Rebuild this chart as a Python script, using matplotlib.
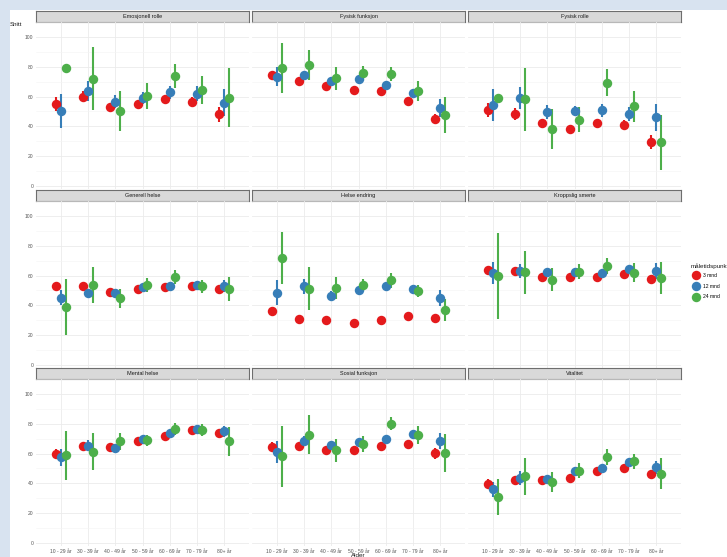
import matplotlib
matplotlib.use("Agg")
import matplotlib.pyplot as plt
import numpy as np

plt.rcParams['font.family'] = ['Liberation Sans', 'DejaVu Sans']

# data
alder = ["10 - 29 år", "30 - 39 år", "40 - 49 år", "50 - 59 år", "60 - 69 år", "70 - 79 år", "80+ år"]
tidspunkt = ["3 mnd", "12 mnd", "24 mnd"]
farger = ["#E41A1C", "#377EB8", "#4DAF4A"]
paneler = ["Emosjonell rolle", "Fysisk funksjon", "Fysisk rolle",
           "Generell helse", "Helse endring", "Kroppslig smerte",
           "Mental helse", "Sosial funksjon", "Vitalitet"]

emo_snitt = [[55, 60, 53, 55, 58.6, 56.6, 48],
             [50.3, 63.7, 56.6, 59.3, 62.8, 62, 56],
             [79, 72, 50.3, 60.4, 73.6, 64.4, 59.3]]
emo_feil = [[5, 3.5, 3, 2, 2, 3, 5],
            [11.5, 7, 4.5, 4, 4.3, 5.3, 9],
            [0, 21, 13.7, 9, 7.9, 9.2, 19.8]]

ffunk_snitt = [[74.4, 70.2, 66.9, 64.4, 63.5, 56.8, 45.2],
               [73.3, 74.2, 70.4, 71.8, 67.6, 62.4, 52.6],
               [79, 81, 72.2, 75.6, 75.3, 63.7, 47.5]]
ffunk_feil = [[2, 2, 2, 1.5, 2, 2, 3.2],
              [6.5, 3, 3, 2, 2, 3, 6],
              [16.7, 10.2, 7.7, 5, 4.8, 6.5, 12.2]]

frolle_snitt = [[51, 48.4, 42.1, 38.3, 42.5, 41, 29.4],
                [54.2, 58.9, 49.5, 50.2, 50.8, 48.4, 46.1],
                [59.3, 58.2, 38.3, 44.6, 69.3, 53.5, 29.2]]
frolle_feil = [[4.5, 3.8, 3, 2, 2.5, 3, 4.8],
               [10.8, 7.2, 4.8, 3.5, 4.2, 4.9, 8.9],
               [0, 21.2, 13.3, 8.5, 9, 10.4, 18.3]]

ghelse_snitt = [[52.8, 52.8, 48.8, 51, 52.4, 52.8, 50.8],
                [45, 48, 48.4, 52.4, 53, 53.5, 53.3],
                [39, 53.7, 44.8, 53.7, 59, 52.8, 51]]
ghelse_feil = [[2, 1.5, 1.5, 1.5, 1.5, 1.5, 2],
               [5, 3, 2, 1.5, 2, 2, 4],
               [19, 12, 6.3, 4.5, 4.5, 4.5, 8.1]]

hendr_snitt = [[36.1, 31, 30.3, 27.9, 30.3, 33.2, 31.7],
               [48.4, 52.8, 46.6, 50.4, 52.8, 51, 44.8],
               [71.8, 51.3, 51.7, 53.7, 56.9, 49.7, 37]]
hendr_feil = [[1.5, 1.5, 1.5, 1.5, 1.5, 1.5, 1.5],
              [8.4, 5, 3.2, 2, 2, 2, 5.3],
              [17.3, 14.2, 7.5, 4.3, 5, 3.9, 7.2]]

smerte_snitt = [[64, 63, 59.3, 59.1, 59.1, 61.3, 57.5],
                [62, 63.3, 62.6, 62.2, 62, 64.7, 63.3],
                [59.7, 62.2, 57.3, 62.6, 66.4, 62, 58.4]]
smerte_feil = [[2.5, 2, 2, 1.5, 1.5, 2, 3],
               [7.4, 4.7, 2.5, 2, 2, 2, 5.3],
               [28.7, 14.5, 7.5, 5, 5.2, 6.2, 11]]

mental_snitt = [[60, 65.4, 64.5, 68.7, 71.6, 75.6, 73.8],
                [57.5, 65.4, 63.8, 69.8, 73.8, 76.5, 74.9],
                [58.7, 61.3, 68.2, 68.9, 76.5, 75.6, 68.2]]
mental_feil = [[3, 2, 1.5, 1.5, 1.5, 1.5, 2],
               [5.8, 3.6, 1.5, 2, 1.5, 1.5, 3.9],
               [16.7, 12.4, 5.8, 3.6, 3.9, 3.9, 9.7]]

sosial_snitt = [[64.5, 65.4, 62.7, 62.4, 65.4, 66.5, 60.2],
                [61.1, 68.7, 65.8, 68, 70, 73.4, 68.5],
                [58.2, 72.7, 62.2, 66.5, 80, 72.7, 60.5]]
sosial_feil = [[3, 2, 2, 1.5, 1.5, 2, 3.6],
               [7.2, 3, 2, 2, 2, 2, 5.6],
               [20.3, 13.3, 7.7, 5.3, 4.5, 6.1, 12.7]]

vital_snitt = [[39.9, 42.4, 42.2, 43.9, 48.4, 50.4, 46.4],
               [35.9, 43.7, 42.6, 48, 50, 54.2, 50.8],
               [30.8, 44.8, 40.8, 48.6, 57.8, 54.8, 46.4]]
vital_feil = [[3, 2, 2, 1.5, 1.5, 2, 2.5],
              [5, 4.5, 2, 2, 2, 2, 4.5],
              [11.8, 12.3, 6.7, 4.9, 5.4, 4.9, 10.4]]

alle_snitt = [emo_snitt, ffunk_snitt, frolle_snitt, ghelse_snitt, hendr_snitt,
              smerte_snitt, mental_snitt, sosial_snitt, vital_snitt]
alle_feil = [emo_feil, ffunk_feil, frolle_feil, ghelse_feil, hendr_feil,
             smerte_feil, mental_feil, sosial_feil, vital_feil]

W, H = 727, 557
fig = plt.figure(figsize=(W / 100, H / 100), dpi=100)
fig.patch.set_facecolor("#d8e3f0")

def px_axes(x0, y0, x1, y1, **kw):
    return fig.add_axes([x0 / W, 1 - y1 / H, (x1 - x0) / W, (y1 - y0) / H], **kw)

# white sheet
bg = px_axes(10, 10, W, H)
bg.set_facecolor("white")
bg.set_xticks([]); bg.set_yticks([])
for s in bg.spines.values():
    s.set_visible(False)

kol_x = [(36, 249), (252, 465), (468, 681)]
rad_y = [(11, 22, 189), (190, 201, 368), (368, 379, 546)]
x = np.arange(1, 8)
dodge = [-0.18, 0, 0.18]
msize = 6.8

for i, navn in enumerate(paneler):
    r, k = divmod(i, 3)
    x0, x1 = kol_x[k]
    st0, st1, p1 = rad_y[r]

    strip = px_axes(x0, st0, x1, st1)
    strip.set_facecolor("#d9d9d9")
    strip.set_xticks([]); strip.set_yticks([])
    for s in strip.spines.values():
        s.set_color("#6e6e6e")
        s.set_linewidth(0.8)
    strip.text(0.5, 0.5, navn, ha="center", va="center", fontsize=4, color="#1a1a1a",
               transform=strip.transAxes)

    ax = px_axes(x0, st1, x1, p1)
    ax.set_facecolor("none")
    for s in ax.spines.values():
        s.set_visible(False)
    ax.set_xlim(0.08, 7.92)
    ax.set_ylim(-2, 110)
    ax.set_yticks(np.arange(0, 101, 20))
    ax.set_yticks(np.arange(10, 111, 20), minor=True)
    ax.set_xticks(x)
    ax.grid(True, which="major", color="#ebebeb", linewidth=0.6)
    ax.grid(True, which="minor", axis="y", color="#f4f4f4", linewidth=0.4)
    ax.set_axisbelow(True)
    ax.tick_params(length=0, labelsize=3.6, labelcolor="#555555", pad=2, which="both")
    if k == 0:
        ax.set_yticklabels([str(v) for v in range(0, 101, 20)])
    else:
        ax.set_yticklabels([])
    if r == 2:
        ax.set_xticklabels(alder)
    else:
        ax.set_xticklabels([])

    snitt = alle_snitt[i]
    feil = alle_feil[i]
    for j in range(3):
        m = np.array(snitt[j]); e = np.array(feil[j])
        ax.vlines(x + dodge[j], m - e, m + e, color=farger[j], linewidth=1.5, zorder=2 + j)
    for j in range(3):
        ax.plot(x + dodge[j], snitt[j], "o", color=farger[j], markersize=msize,
                markeredgewidth=0, zorder=6 + j)

fig.text(10 / W, 1 - 25 / H, "Snitt", fontsize=4.5, color="#1a1a1a", va="center")
fig.text(358 / W, 1 - 553 / H, "Alder", fontsize=4.5, color="#1a1a1a", ha="center", va="top")

# legend
fig.text(691 / W, 1 - 266 / H, "måletidspunkt", fontsize=4.5, color="#1a1a1a", va="center")
handles = [plt.Line2D([], [], marker="o", linestyle="none", color=c, markersize=msize,
                      markeredgewidth=0) for c in farger]
fig.legend(handles, tidspunkt, loc="upper left", bbox_to_anchor=(693.5 / W, 1 - 273 / H),
           frameon=False, fontsize=3.6, handlelength=1.0, handletextpad=0.9,
           labelspacing=1.15, borderpad=0, borderaxespad=0)

fig.savefig("out.png", dpi=100, facecolor=fig.get_facecolor())
